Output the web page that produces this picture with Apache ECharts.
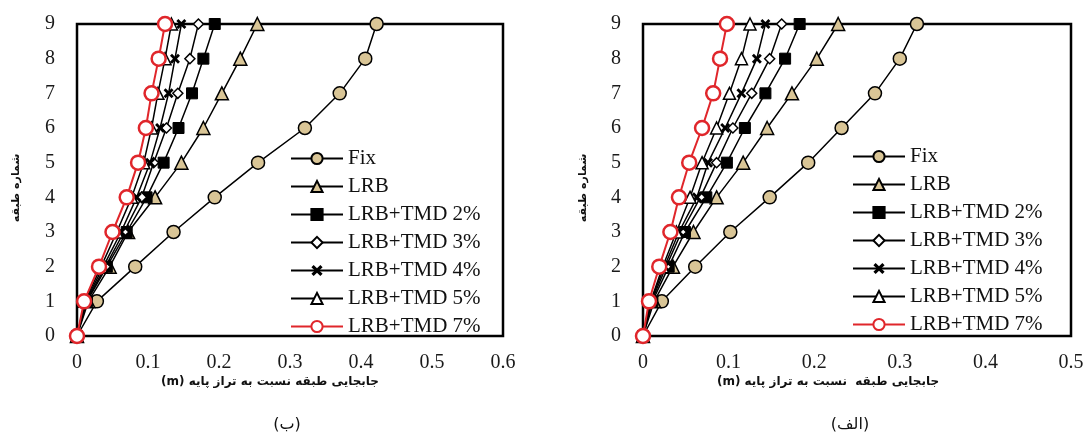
<!DOCTYPE html>
<html>
<head>
<meta charset="utf-8">
<script src="https://cdn.jsdelivr.net/npm/echarts@6/dist/echarts.min.js"></script>
<style>
html,body{margin:0;padding:0;background:#fff;}
#chart{width:1091px;height:441px;}
</style>
</head>
<body>
<div id="chart"></div>
<script>
// ---- Data ----
const floors = [0, 1, 2, 3, 4, 5, 6, 7, 8, 9];
const seriesNames = ['Fix', 'LRB', 'LRB+TMD 2%', 'LRB+TMD 3%', 'LRB+TMD 4%', 'LRB+TMD 5%', 'LRB+TMD 7%'];

// Left chart (ب)
const bFix  = [0, 0.028, 0.082, 0.136, 0.194, 0.255, 0.321, 0.370, 0.406, 0.422];
const bLRB  = [0, 0.016, 0.046, 0.072, 0.110, 0.147, 0.178, 0.204, 0.230, 0.254];
const bTMD2 = [0, 0.014, 0.042, 0.070, 0.098, 0.122, 0.143, 0.162, 0.178, 0.194];
const bTMD3 = [0, 0.013, 0.040, 0.066, 0.091, 0.108, 0.126, 0.142, 0.159, 0.171];
const bTMD4 = [0, 0.012, 0.037, 0.062, 0.084, 0.103, 0.117, 0.129, 0.138, 0.147];
const bTMD5 = [0, 0.011, 0.034, 0.056, 0.077, 0.094, 0.105, 0.114, 0.124, 0.133];
const bTMD7 = [0, 0.010, 0.031, 0.050, 0.070, 0.086, 0.097, 0.105, 0.115, 0.124];

// Right chart (الف)
const aFix  = [0, 0.022, 0.061, 0.102, 0.148, 0.193, 0.232, 0.271, 0.300, 0.320];
const aLRB  = [0, 0.013, 0.035, 0.059, 0.086, 0.117, 0.145, 0.174, 0.203, 0.228];
const aTMD2 = [0, 0.011, 0.030, 0.049, 0.074, 0.098, 0.119, 0.143, 0.166, 0.183];
const aTMD3 = [0, 0.010, 0.027, 0.045, 0.067, 0.086, 0.105, 0.127, 0.148, 0.162];
const aTMD4 = [0, 0.009, 0.025, 0.042, 0.063, 0.076, 0.096, 0.115, 0.133, 0.143];
const aTMD5 = [0, 0.009, 0.023, 0.039, 0.055, 0.069, 0.086, 0.101, 0.115, 0.125];
const aTMD7 = [0, 0.007, 0.019, 0.032, 0.042, 0.054, 0.069, 0.082, 0.090, 0.098];

const xTicksLeft = [0, 0.1, 0.2, 0.3, 0.4, 0.5, 0.6];
const xTicksRight = [0, 0.1, 0.2, 0.3, 0.4, 0.5];

const xTitleLeft = '(m) جابجایی طبقه نسبت به تراز پایه';
const xTitleRight = '(m) جابجایی طبقه  نسبت به تراز پایه';
const yTitle = 'شماره طبقه';
const captionLeft = '(ب)';
const captionRight = '(الف)';

// ---- Styles ----
const TAN = '#D9C596';
const RED = '#E0262B';
const XPATH = 'path://M2,0 L5,3 L8,0 L10,2 L7,5 L10,8 L8,10 L5,7 L2,10 L0,8 L3,5 L0,2 Z';
const styles = {
  'Fix':        {symbol: 'circle',   size: 13, fill: TAN,    border: '#000', bw: 1.5, line: '#000', lw: 1.5},
  'LRB':        {symbol: 'triangle', size: 13, fill: TAN,    border: '#000', bw: 1.5, line: '#000', lw: 1.5},
  'LRB+TMD 2%': {symbol: 'rect',     size: 11, fill: '#000', border: '#000', bw: 1,   line: '#000', lw: 1.5},
  'LRB+TMD 3%': {symbol: 'diamond',  size: 10, fill: '#fff', border: '#000', bw: 1.5, line: '#000', lw: 1.5},
  'LRB+TMD 4%': {symbol: XPATH,      size: 10, fill: '#000', border: '#000', bw: 0,   line: '#000', lw: 1.5},
  'LRB+TMD 5%': {symbol: 'triangle', size: 12, fill: '#fff', border: '#000', bw: 1.5, line: '#000', lw: 1.5},
  'LRB+TMD 7%': {symbol: 'circle',   size: 14, fill: '#fff', border: RED,    bw: 2.5, line: RED,    lw: 2}
};

const leftVals = [bFix, bLRB, bTMD2, bTMD3, bTMD4, bTMD5, bTMD7];
const rightVals = [aFix, aLRB, aTMD2, aTMD3, aTMD4, aTMD5, aTMD7];

function makeSeries(name, vals, idx) {
  const s = styles[name];
  return {
    name: name, type: 'line',
    xAxisIndex: idx, yAxisIndex: idx,
    data: floors.map((f, i) => [vals[i], f]),
    symbol: s.symbol, symbolSize: s.size, showSymbol: true,
    itemStyle: {color: s.fill, borderColor: s.border, borderWidth: s.bw},
    lineStyle: {color: s.line, width: s.lw},
    emphasis: {disabled: true},
    animation: false
  };
}

const series = [];
seriesNames.forEach((n, i) => series.push(makeSeries(n, leftVals[i], 0)));
seriesNames.forEach((n, i) => series.push(makeSeries(n, rightVals[i], 1)));

const SERIF = 'Liberation Serif';

function xAxisCfg(idx, ticks) {
  return {
    type: 'value', gridIndex: idx,
    min: ticks[0], max: ticks[ticks.length - 1], interval: 0.1,
    axisLine: {show: false}, axisTick: {show: false}, splitLine: {show: false},
    axisLabel: {fontFamily: SERIF, fontSize: 20, color: '#1a1a1a', margin: 17,
      formatter: v => String(+v.toFixed(1))}
  };
}
function yAxisCfg(idx) {
  return {
    type: 'value', gridIndex: idx, min: 0, max: 9, interval: 1,
    axisLine: {show: false}, axisTick: {show: false}, splitLine: {show: false},
    axisLabel: {fontFamily: SERIF, fontSize: 20, color: '#1a1a1a', margin: 22}
  };
}
function legendCfg(left, top, gap) {
  return {
    data: seriesNames, orient: 'vertical', left: left, top: top, padding: 0,
    itemWidth: 52, itemHeight: 14, itemGap: gap, selectedMode: false,
    textStyle: {fontFamily: SERIF, fontSize: 21, color: '#111', lineHeight: 20}
  };
}

const option = {
  backgroundColor: '#fff',
  animation: false,
  grid: [
    {left: 77, top: 24, width: 426, height: 312, show: true, borderColor: '#000', borderWidth: 2.5, backgroundColor: 'transparent'},
    {left: 643, top: 24, width: 428, height: 312, show: true, borderColor: '#000', borderWidth: 2.5, backgroundColor: 'transparent'}
  ],
  xAxis: [xAxisCfg(0, xTicksLeft), xAxisCfg(1, xTicksRight)],
  yAxis: [yAxisCfg(0), yAxisCfg(1)],
  legend: [legendCfg(290, 148, 7), legendCfg(852, 146, 7)],
  graphic: [
    {type: 'text', x: 270, y: 382, style: {text: xTitleLeft, font: 'bold 12px "DejaVu Sans"', fill: '#111', align: 'center', verticalAlign: 'middle'}},
    {type: 'text', x: 828, y: 382, style: {text: xTitleRight, font: 'bold 12px "DejaVu Sans"', fill: '#111', align: 'center', verticalAlign: 'middle'}},
    {type: 'text', x: 287, y: 425, style: {text: captionLeft, font: '16px "DejaVu Sans"', fill: '#111', align: 'center', verticalAlign: 'middle'}},
    {type: 'text', x: 850, y: 425, style: {text: captionRight, font: '16px "DejaVu Sans"', fill: '#111', align: 'center', verticalAlign: 'middle'}},
    {type: 'text', x: 16, y: 188, rotation: Math.PI / 2, style: {text: yTitle, font: 'bold 11px "DejaVu Sans"', fill: '#111', align: 'center', verticalAlign: 'middle'}},
    {type: 'text', x: 583, y: 188, rotation: Math.PI / 2, style: {text: yTitle, font: 'bold 11px "DejaVu Sans"', fill: '#111', align: 'center', verticalAlign: 'middle'}}
  ],
  series: series
};

const chart = echarts.init(document.getElementById('chart'), null, {renderer: 'canvas'});
chart.setOption(option);
</script>
</body>
</html>
